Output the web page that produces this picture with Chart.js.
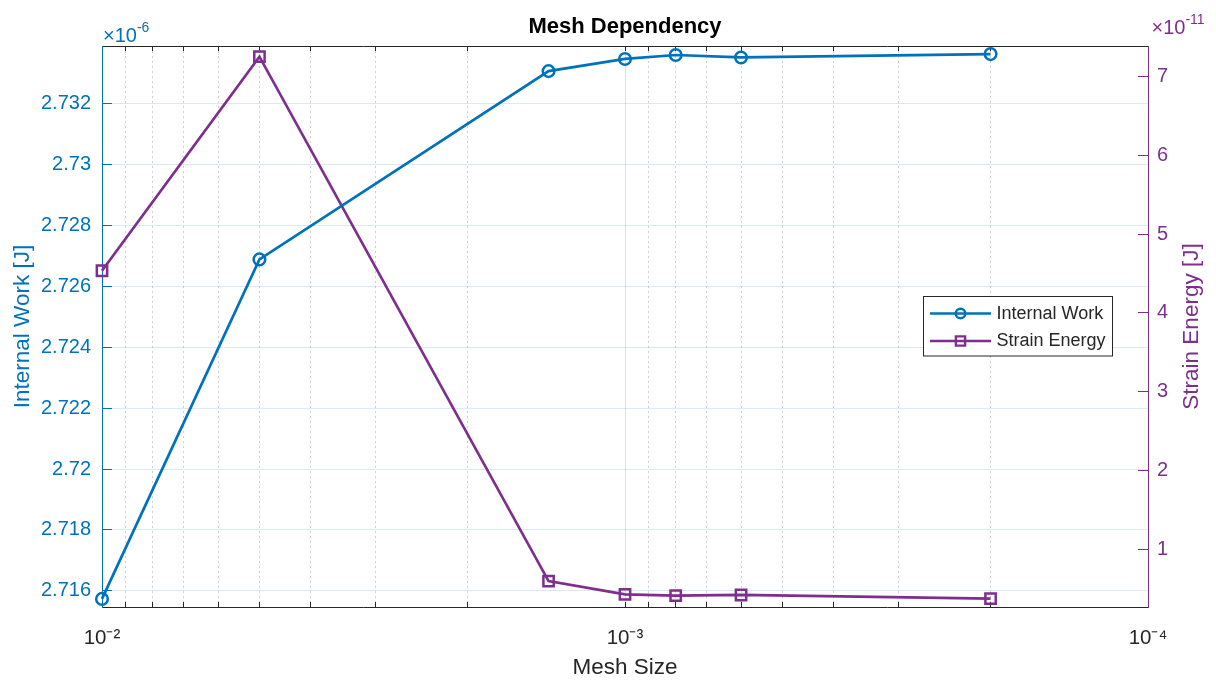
<!DOCTYPE html>
<html>
<head>
<meta charset="utf-8">
<style>
html,body{margin:0;padding:0;background:#fff;}
#wrap{width:1216px;height:680px;position:relative;}
canvas{display:block;}
</style>
<script src="https://cdn.jsdelivr.net/npm/chart.js@4.4.1/dist/chart.umd.min.js"></script>
</head>
<body>
<div id="wrap"><canvas id="c" width="1216" height="680"></canvas></div>
<script>
// ---------------- data ----------------
const meshSize      = [0.01, 0.005, 0.0014, 0.001, 0.0008, 0.0006, 0.0002];
const internalWork  = [2.71573, 2.72689, 2.73308, 2.73348, 2.73361, 2.73353, 2.73364]; // x 1e-6 J
const strainEnergy  = [4.535, 7.254, 0.593, 0.424, 0.407, 0.416, 0.369];               // x 1e-11 J
const seriesNames   = ['Internal Work', 'Strain Energy'];
const xMajorTicks   = [1e-2, 1e-3, 1e-4];
const xTickLabels   = ['10\u207B\u00B2', '10\u207B\u00B3', '10\u207B\u2074'];
const leftTicks     = [2.716, 2.718, 2.72, 2.722, 2.724, 2.726, 2.728, 2.73, 2.732];
const rightTicks    = [1, 2, 3, 4, 5, 6, 7];
const leftExponent  = '-6';
const rightExponent = '-11';
const titleText     = 'Mesh Dependency';
const xTitle        = 'Mesh Size';
const leftTitle     = 'Internal Work [J]';
const rightTitle    = 'Strain Energy [J]';

// ---------------- style ----------------
const FONT = '"Liberation Sans", Arial, Helvetica, sans-serif';
const BLUE = '#0072BD';
const PURPLE = '#7E2F8E';
const DARK = '#262626';
Chart.defaults.font.family = FONT;

const isMajor = v => xMajorTicks.some(t => Math.abs(t - v) / t < 1e-6);
const isEdge = v => Math.abs(v - 1e-2) / 1e-2 < 1e-6 || Math.abs(v - 1e-4) / 1e-4 < 1e-6;

function buildLogTicks(scale) {
  const ticks = [];
  const lo = Math.round(Math.log10(scale.min));
  const hi = Math.round(Math.log10(scale.max));
  for (let e = lo; e < hi; e++) {
    for (let m = 1; m <= 9; m++) ticks.push({ value: +(m * Math.pow(10, e)).toPrecision(6), major: m === 1 });
  }
  ticks.push({ value: Math.pow(10, hi), major: true });
  scale.ticks = ticks;
}

const xGridColor = ctx => {
  const v = ctx.tick ? ctx.tick.value : 0;
  if (isEdge(v)) return 'rgba(0,0,0,0)';
  return isMajor(v) ? 'rgba(38,38,38,0.15)' : 'rgba(38,38,38,0.22)';
};
const xGridDash = ctx => (ctx.tick && !isMajor(ctx.tick.value)) ? [2, 3] : [];
const xTickColor = ctx => (ctx.tick && isEdge(ctx.tick.value)) ? 'rgba(0,0,0,0)' : DARK;

// ---------------- overlay plugin (legend, exponents, right title) ----------------
function drawExponent(ctx, x, y, exp, color) {
  ctx.save();
  ctx.fillStyle = color;
  ctx.textBaseline = 'alphabetic';
  ctx.textAlign = 'left';
  ctx.font = '20px ' + FONT;
  ctx.fillText('\u00D710', x, y);
  const w = ctx.measureText('\u00D710').width;
  ctx.font = '14px ' + FONT;
  ctx.fillText(exp, x + w, y - 10);
  ctx.restore();
}

const overlay = {
  id: 'overlay',
  afterDraw(chart) {
    const ctx = chart.ctx;
    const ca = chart.chartArea;
    // right axis title (reads bottom-to-top)
    ctx.save();
    ctx.translate(1191.5, (ca.top + ca.bottom) / 2);
    ctx.rotate(-Math.PI / 2);
    ctx.font = '22.5px ' + FONT;
    ctx.fillStyle = PURPLE;
    ctx.textAlign = 'center';
    ctx.textBaseline = 'middle';
    ctx.fillText(rightTitle, 0, 0);
    ctx.restore();

    // exponent labels
    drawExponent(ctx, ca.left + 1, 41.5, leftExponent, BLUE);
    drawExponent(ctx, ca.right + 3.5, 34.3, rightExponent, PURPLE);

    // legend box
    const bx = 923.5, by = 296.5, bw = 189, bh = 59.5;
    ctx.save();
    ctx.fillStyle = '#fff';
    ctx.fillRect(bx, by, bw, bh);
    ctx.strokeStyle = DARK;
    ctx.lineWidth = 1;
    ctx.strokeRect(bx, by, bw, bh);
    const rows = [
      { y: 313.5, color: BLUE, marker: 'circle', name: seriesNames[0] },
      { y: 341, color: PURPLE, marker: 'rect', name: seriesNames[1] }
    ];
    rows.forEach(r => {
      ctx.strokeStyle = r.color;
      ctx.lineWidth = 2.6;
      ctx.beginPath();
      ctx.moveTo(930, r.y);
      ctx.lineTo(991, r.y);
      ctx.stroke();
      ctx.lineWidth = 2.4;
      ctx.beginPath();
      if (r.marker === 'circle') {
        ctx.arc(960.5, r.y, 4.8, 0, Math.PI * 2);
      } else {
        ctx.rect(960.5 - 4.6, r.y - 4.6, 9.2, 9.2);
      }
      ctx.stroke();
      ctx.fillStyle = DARK;
      ctx.font = '18px ' + FONT;
      ctx.textAlign = 'left';
      ctx.textBaseline = 'middle';
      ctx.fillText(r.name, 996.5, r.y + 0.5);
    });
    ctx.restore();
  }
};

// ---------------- chart ----------------
new Chart(document.getElementById('c'), {
  type: 'line',
  data: {
    datasets: [
      {
        label: seriesNames[0],
        data: meshSize.map((x, i) => ({ x, y: internalWork[i] })),
        xAxisID: 'x', yAxisID: 'y',
        borderColor: BLUE, backgroundColor: 'rgba(0,0,0,0)',
        borderWidth: 2.7, tension: 0, fill: false, clip: false,
        pointStyle: 'circle', pointRadius: 5.8, pointBorderWidth: 2.5,
        pointBorderColor: BLUE, pointBackgroundColor: 'rgba(0,0,0,0)'
      },
      {
        label: seriesNames[1],
        data: meshSize.map((x, i) => ({ x, y: strainEnergy[i] })),
        xAxisID: 'x', yAxisID: 'y1',
        borderColor: PURPLE, backgroundColor: 'rgba(0,0,0,0)',
        borderWidth: 2.7, tension: 0, fill: false, clip: false,
        pointStyle: 'rect', pointRadius: 7.3, pointBorderWidth: 2.5,
        pointBorderColor: PURPLE, pointBackgroundColor: 'rgba(0,0,0,0)'
      }
    ]
  },
  options: {
    responsive: false,
    animation: false,
    devicePixelRatio: 1,
    layout: { padding: 0 },
    plugins: { legend: { display: false }, tooltip: { enabled: false }, title: { display: false } },
    scales: {
      x: {
        type: 'logarithmic', position: 'bottom', reverse: true,
        min: 1e-4, max: 1e-2, bounds: 'data',
        afterBuildTicks: buildLogTicks,
        afterFit: s => { s.height = 73; },
        grid: { color: xGridColor, lineWidth: 1, drawTicks: true, tickLength: -5, tickColor: xTickColor, tickWidth: 1 },
        border: { display: true, color: DARK, width: 1, dash: xGridDash },
        ticks: {
          autoSkip: false, maxRotation: 0, minRotation: 0, padding: 24, color: DARK,
          font: { size: 20.5 },
          callback: v => { const i = xMajorTicks.findIndex(t => Math.abs(t - v) / t < 1e-6); return i >= 0 ? xTickLabels[i] : ''; }
        },
        title: { display: true, text: xTitle, color: DARK, font: { size: 22.5, lineHeight: 1 }, padding: { top: 0, bottom: 0.75 } }
      },
      x2: {
        type: 'logarithmic', position: 'top', reverse: true,
        min: 1e-4, max: 1e-2, bounds: 'data',
        afterBuildTicks: buildLogTicks,
        afterFit: s => { s.height = 46; },
        grid: { drawOnChartArea: false, drawTicks: true, tickLength: -5, tickColor: xTickColor, tickWidth: 1 },
        border: { display: true, color: DARK, width: 1 },
        ticks: { display: false },
        title: { display: true, text: titleText, color: '#000', font: { size: 22, weight: 'bold', lineHeight: 1 }, padding: { top: 15.7, bottom: 0 } }
      },
      y: {
        type: 'linear', position: 'left', bounds: 'data',
        min: 2.715464, max: 2.733906,
        afterBuildTicks: s => { s.ticks = leftTicks.map(v => ({ value: v })); },
        afterFit: s => { s.width = 102; },
        grid: { color: 'rgba(0,114,189,0.15)', lineWidth: 1, drawTicks: true, tickLength: -10, tickColor: BLUE, tickWidth: 1 },
        border: { display: true, color: BLUE, width: 1 },
        ticks: { autoSkip: false, color: BLUE, font: { size: 20 }, padding: 21, callback: v => String(+(+v).toFixed(3)) },
        title: { display: true, text: leftTitle, color: BLUE, font: { size: 22.5, lineHeight: 1 }, padding: { top: 11.65, bottom: 0 } }
      },
      y1: {
        type: 'linear', position: 'right', bounds: 'data',
        min: 0.2632, max: 7.390,
        afterBuildTicks: s => { s.ticks = rightTicks.map(v => ({ value: v })); },
        afterFit: s => { s.width = 68; },
        grid: { drawOnChartArea: false, drawTicks: true, tickLength: -10, tickColor: PURPLE, tickWidth: 1 },
        border: { display: true, color: PURPLE, width: 1 },
        ticks: { autoSkip: false, color: PURPLE, font: { size: 20 }, padding: 19, callback: v => String(v) }
      }
    }
  },
  plugins: [overlay]
});
</script>
</body>
</html>
